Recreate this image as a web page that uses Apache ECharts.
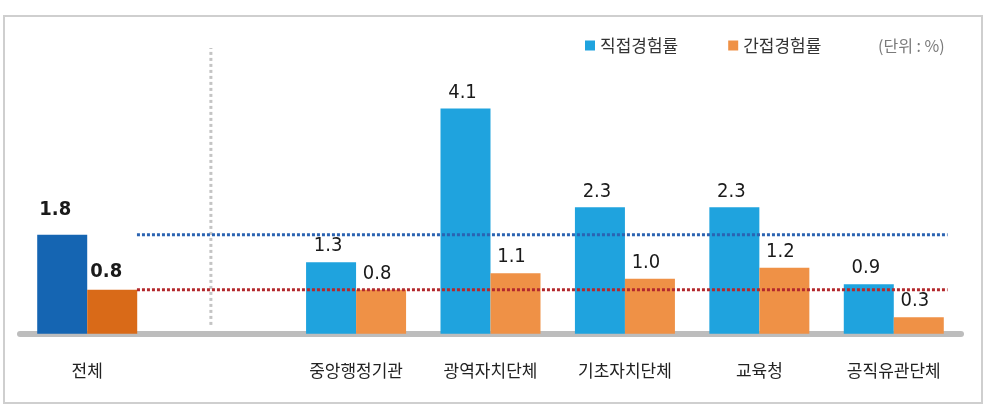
<!DOCTYPE html>
<html>
<head>
<meta charset="utf-8">
<script src="https://cdn.jsdelivr.net/npm/echarts@6/dist/echarts.min.js"></script>
<style>
  html, body { margin: 0; padding: 0; background: #fff; }
  #chart { width: 1000px; height: 412px; }
</style>
</head>
<body>
<div id="chart"></div>
<script>
// ---- data ----
const categories = ['전체', '', '중앙행정기관', '광역자치단체', '기초자치단체', '교육청', '공직유관단체'];
const directRate = [1.8, null, 1.3, 4.1, 2.3, 2.3, 0.9];
const indirectRate = [0.8, null, 0.8, 1.1, 1.0, 1.2, 0.3];
const seriesNames = ['직접경험률', '간접경험률'];
const unitText = '(단위 : %)';

// ---- styles ----
const blue = '#1fa3de';
const orange = '#ef9146';
const blueTotal = '#1565b2';
const orangeTotal = '#d96a18';
const numFont = "'DejaVu Sans Condensed', 'Liberation Sans Narrow', 'Noto Sans CJK KR', sans-serif";
const krFont = "'Noto Sans CJK KR', sans-serif";

// layout constants in hidden value-axis units (category i centred at i)
const refStart = 0.37, refEnd = 6.4, sepX = 0.92, sepLow = 0.16, sepHigh = 5.2;

function barData(values, totalColor, totalLabel) {
  return values.map((v, i) => {
    if (v == null) return null;
    if (i === 0) {
      return { value: v, itemStyle: { color: totalColor }, label: totalLabel };
    }
    return v;
  });
}
const fmt = p => (p.value == null ? '' : Number(p.value).toFixed(1));

const chart = echarts.init(document.getElementById('chart'), null, { renderer: 'canvas' });
chart.setOption({
  animation: false,
  textStyle: { fontFamily: krFont },
  graphic: [{
    type: 'rect',
    shape: { x: 4, y: 16, width: 978, height: 387 },
    style: { fill: 'none', stroke: '#cfcfcf', lineWidth: 2 },
    z: -1
  }],
  title: {
    text: unitText,
    left: 873, top: 33,
    textStyle: { fontSize: 16, fontWeight: 'normal', color: '#7a7a7a', fontFamily: krFont }
  },
  legend: {
    left: 580, top: 32,
    itemWidth: 10, itemHeight: 10, itemGap: 50,
    icon: 'rect',
    data: seriesNames,
    textStyle: { fontSize: 17, color: '#333', fontFamily: krFont }
  },
  grid: { left: 20, right: 39, top: 48, bottom: 75 },
  xAxis: [{
    type: 'category',
    data: categories,
    axisLine: { show: true, lineStyle: { color: '#bdbdbd', width: 6 } },
    axisTick: { show: false },
    axisLabel: { margin: 25, fontSize: 17, color: '#222', fontFamily: krFont, interval: 0 }
  }, {
    type: 'value',
    min: -0.5, max: 6.5,
    show: false
  }],
  yAxis: {
    type: 'value',
    min: -0.06, max: 5.2,
    show: false,
    splitLine: { show: false }
  },
  series: [{
    name: seriesNames[0],
    type: 'bar',
    barWidth: 50,
    barGap: '0%',
    itemStyle: { color: blue },
    label: {
      show: true, position: 'top', distance: 6, offset: [-3, 0],
      fontSize: 20, color: '#1a1a1a', fontFamily: numFont, formatter: fmt
    },
    data: barData(directRate, blueTotal, { distance: 15, offset: [-7, 0], fontWeight: 'bold' }),
    z: 2
  }, {
    name: seriesNames[1],
    type: 'bar',
    barWidth: 50,
    itemStyle: { color: orange },
    label: {
      show: true, position: 'top', distance: 6, offset: [-4, 0],
      fontSize: 20, color: '#1a1a1a', fontFamily: numFont, formatter: fmt
    },
    data: barData(indirectRate, orangeTotal, { distance: 8, offset: [-6, 0], fontWeight: 'bold' }),
    z: 2
  }, {
    name: 'ref-direct',
    type: 'line',
    xAxisIndex: 1,
    symbol: 'none',
    silent: true,
    lineStyle: { color: '#2b63b1', width: 3, type: [3, 2] },
    data: [[refStart, directRate[0]], [refEnd, directRate[0]]],
    z: 3
  }, {
    name: 'ref-indirect',
    type: 'line',
    xAxisIndex: 1,
    symbol: 'none',
    silent: true,
    lineStyle: { color: '#b3282c', width: 3, type: [3, 2] },
    data: [[refStart, indirectRate[0]], [refEnd, indirectRate[0]]],
    z: 3
  }, {
    name: 'separator',
    type: 'line',
    xAxisIndex: 1,
    symbol: 'none',
    silent: true,
    lineStyle: { color: '#c4c4c4', width: 3, type: [3, 3] },
    data: [[sepX, sepLow], [sepX, sepHigh]],
    z: 1
  }]
});
</script>
</body>
</html>
